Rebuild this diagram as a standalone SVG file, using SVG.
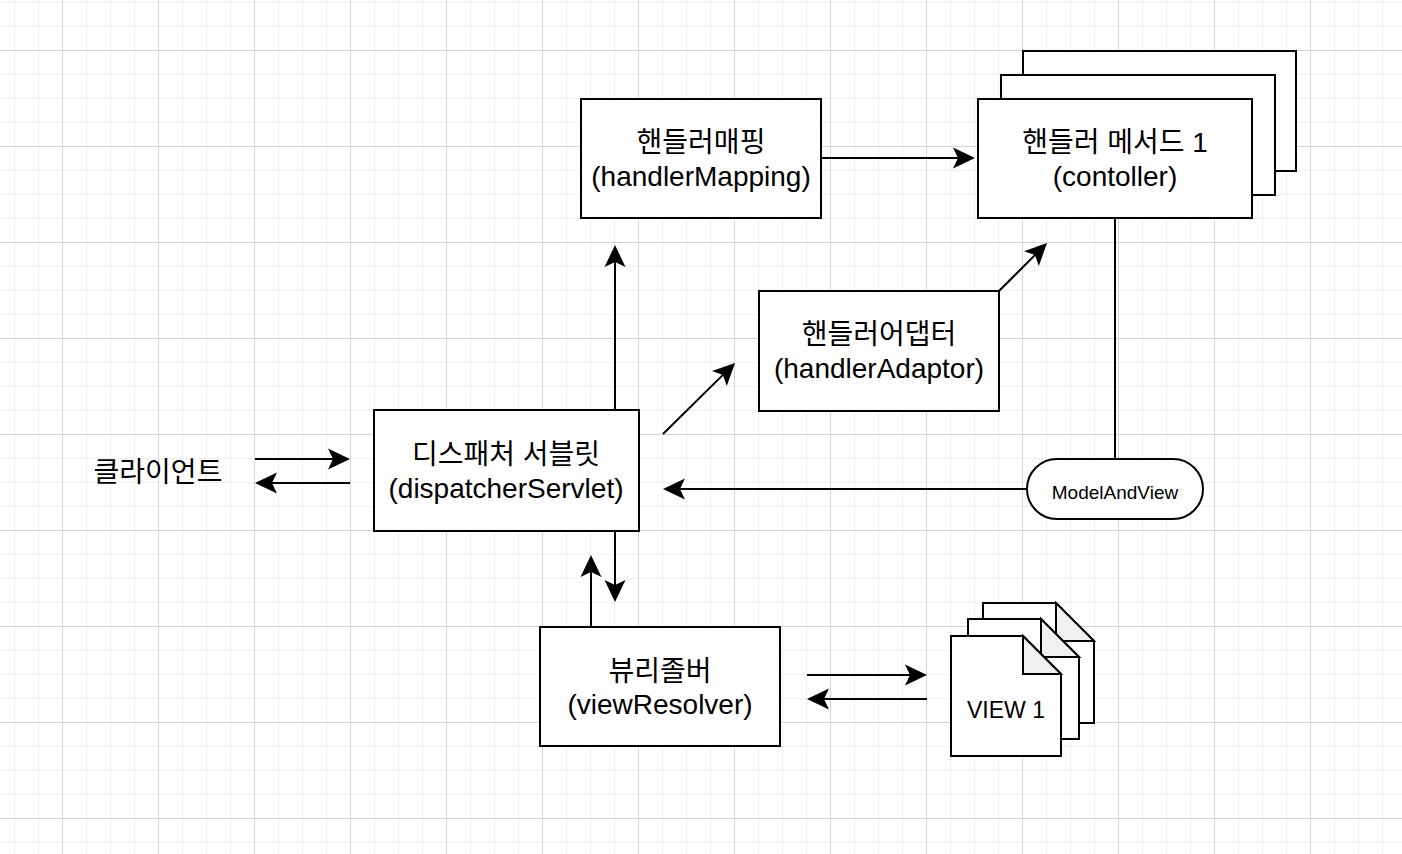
<svg xmlns="http://www.w3.org/2000/svg" width="1402" height="854" viewBox="0 0 1402 854">
<style>
.box{fill:#fff;stroke:#000;stroke-width:2}
.fold{fill:#f0f0f0;stroke:#000;stroke-width:2;stroke-linejoin:miter}
.ln{fill:none;stroke:#000;stroke-width:2}
.arr{fill:none;stroke:#000;stroke-width:2;marker-end:url(#ah)}
.t{font-family:"Liberation Sans","Noto Sans CJK KR",Arial,sans-serif;font-size:28px;fill:#000;text-anchor:middle}
</style>
<defs>
<pattern id="minor" x="14" y="2" width="24" height="24" patternUnits="userSpaceOnUse">
<path d="M0.5,0V24M0,0.5H24" stroke="#f0f0f0" stroke-width="1" fill="none"/>
</pattern>
<pattern id="major" x="62" y="50" width="96" height="96" patternUnits="userSpaceOnUse">
<path d="M0.5,0V96M0,0.5H96" stroke="#d4d4d4" stroke-width="1" fill="none"/>
</pattern>
<marker id="ah" markerUnits="userSpaceOnUse" markerWidth="24" markerHeight="24" viewBox="0 -12 24 24" refX="10" refY="0" orient="auto" overflow="visible">
<path d="M22,0L0,-10.5L5,0L0,10.5Z" fill="#000"/>
</marker>
</defs>
<rect width="1402" height="854" fill="#fff"/>
<rect width="1402" height="854" fill="url(#minor)"/>
<rect width="1402" height="854" fill="url(#major)"/>

<g id="connectors">
<path class="arr" d="M822,158H963"/>
<path class="arr" d="M615,410V257"/>
<path class="arr" d="M663,434L726.5,371.4"/>
<path class="arr" d="M999,291L1038.5,251.5"/>
<path class="ln" d="M1115,219V459"/>
<path class="arr" d="M1027,489H675"/>
<path class="arr" d="M255,459H338"/>
<path class="arr" d="M350,483H267"/>
<path class="arr" d="M615,531V590"/>
<path class="arr" d="M591,627V567"/>
<path class="arr" d="M807,675H915"/>
<path class="arr" d="M927,699H819"/>
</g>

<g id="handlerMapping">
<rect class="box" x="581" y="99" width="240" height="119"/>
<text class="t" x="701" y="152">핸들러매핑</text>
<text class="t" x="701" y="186">(handlerMapping)</text>
</g>

<g id="controller">
<rect class="box" x="1023" y="51" width="273" height="120"/>
<rect class="box" x="1001" y="75" width="274" height="120"/>
<rect class="box" x="978" y="99" width="274" height="119"/>
<text class="t" x="1115" y="152">핸들러 메서드 1</text>
<text class="t" x="1115" y="186">(contoller)</text>
</g>

<g id="handlerAdaptor">
<rect class="box" x="759" y="291" width="240" height="120"/>
<text class="t" x="879" y="344">핸들러어댑터</text>
<text class="t" x="879" y="378">(handlerAdaptor)</text>
</g>

<g id="dispatcherServlet">
<rect class="box" x="374" y="410" width="265" height="121"/>
<text class="t" x="506" y="464">디스패처 서블릿</text>
<text class="t" x="506" y="498">(dispatcherServlet)</text>
</g>

<g id="client">
<text class="t" x="158" y="482">클라이언트</text>
</g>

<g id="modelAndView">
<rect class="box" x="1027" y="459" width="176" height="60" rx="30" ry="30"/>
<text class="t" x="1115" y="499" style="font-size:19px">ModelAndView</text>
</g>

<g id="viewResolver">
<rect class="box" x="540" y="627" width="240" height="119"/>
<text class="t" x="660" y="681">뷰리졸버</text>
<text class="t" x="660" y="714">(viewResolver)</text>
</g>

<g id="views">
<path class="box" d="M983,603H1056L1094,641V723H983Z"/>
<path class="fold" d="M1056,603V641H1094Z"/>
<path class="box" d="M968,619H1041L1079,657V739H968Z"/>
<path class="fold" d="M1041,619V657H1079Z"/>
<path class="box" d="M951,636H1023L1061,674V756H951Z"/>
<path class="fold" d="M1023,636V674H1061Z"/>
<text class="t" x="1006" y="718" style="font-size:23px">VIEW 1</text>
</g>
</svg>
